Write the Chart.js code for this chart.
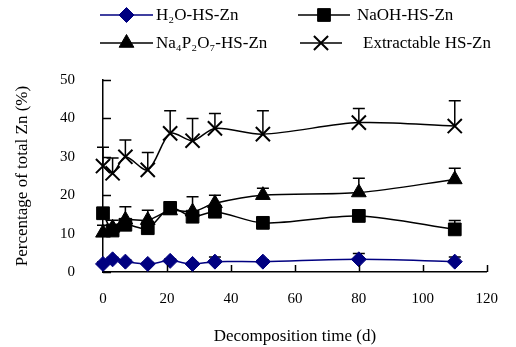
<!DOCTYPE html>
<html>
<head>
<meta charset="UTF-8">
<title>Zn fractions over decomposition time</title>
<script src="https://cdn.jsdelivr.net/npm/chart.js"></script>
<style>
  html, body { margin: 0; padding: 0; background: #fff; }
  #wrap { width: 516px; height: 347px; }
</style>
</head>
<body>
<div id="wrap"><canvas id="znChart" width="516" height="347"></canvas></div>
<script>
// values
const days = [0, 3, 7, 14, 21, 28, 35, 50, 80, 110];
const h2o = [2.1, 3.3, 2.7, 2.1, 2.9, 2.1, 2.7, 2.7, 3.3, 2.7];
const h2oErr = [0.5, 0.5, 0.5, 0.4, 0.5, 0.4, 1.2, 0.5, 1.5, 1.2];
const naoh = [15.3, 10.8, 12.3, 11.4, 16.7, 14.4, 15.7, 12.8, 14.6, 11.1];
const naohErr = [0.5, 1.0, 1.5, 1.5, 0.8, 1.2, 1.2, 0.5, 1.5, 2.3];
const na4p2o7 = [10.2, 11.5, 13.6, 13.5, 16.0, 15.7, 17.9, 20.0, 20.7, 24.1];
const na4p2o7Err = [2.0, 2.0, 3.4, 2.6, 1.0, 3.9, 2.1, 1.8, 3.7, 2.9];
const extractable = [27.6, 25.7, 30.0, 26.6, 36.1, 34.2, 37.4, 35.9, 38.9, 38.0];
const extractableErr = [4.9, 4.0, 4.4, 4.5, 5.9, 5.8, 3.9, 6.1, 3.7, 6.6];
const labels = ["H\u2082O-HS-Zn", "NaOH-HS-Zn", "Na\u2084P\u2082O\u2087-HS-Zn", "Extractable HS-Zn"];
const xTicks = [0, 20, 40, 60, 80, 100, 120];
const yTicks = [0, 10, 20, 30, 40, 50];

const FONT = "'Liberation Serif', 'Times New Roman', serif";

function pts(vals) {
    return days.map((d, i) => ({ x: d, y: vals[i] }));
}

// upper error bars with caps
const errorBars = {
    id: 'errorBars',
    beforeDatasetsDraw(chart) {
        const ctx = chart.ctx;
        const xs = chart.scales.x, ys = chart.scales.y;
        ctx.save();
        ctx.strokeStyle = '#000';
        ctx.lineWidth = 1.5;
        chart.data.datasets.forEach(ds => {
            ds.data.forEach((p, i) => {
                const px = xs.getPixelForValue(p.x);
                const y0 = ys.getPixelForValue(p.y);
                const y1 = ys.getPixelForValue(p.y + ds.err[i]);
                ctx.beginPath();
                ctx.moveTo(px, y0);
                ctx.lineTo(px, y1);
                ctx.moveTo(px - 6, y1);
                ctx.lineTo(px + 6, y1);
                ctx.stroke();
            });
        });
        ctx.restore();
    }
};

// tick marks pointing into the plot
const innerTicks = {
    id: 'innerTicks',
    afterDraw(chart) {
        const ctx = chart.ctx;
        const xs = chart.scales.x, ys = chart.scales.y;
        const a = chart.chartArea;
        ctx.save();
        ctx.strokeStyle = '#000';
        ctx.lineWidth = 1.5;
        ctx.beginPath();
        xTicks.forEach(v => {
            if (v === 0) return;
            const px = Math.round(xs.getPixelForValue(v)) + 0.5;
            ctx.moveTo(px, a.bottom);
            ctx.lineTo(px, a.bottom - 7);
        });
        yTicks.forEach(v => {
            const py = Math.round(ys.getPixelForValue(v)) + 0.5;
            ctx.moveTo(a.left, py);
            ctx.lineTo(a.left + 8, py);
        });
        ctx.stroke();
        ctx.restore();
    }
};

// two-row legend with line + marker samples
const lineLegend = {
    id: 'lineLegend',
    afterDraw(chart) {
        const ctx = chart.ctx;
        const slots = [
            { x0: 100, x1: 153, tx: 156, y: 15 },
            { x0: 298, x1: 350, tx: 357, y: 15 },
            { x0: 100, x1: 153, tx: 156, y: 43 },
            { x0: 300, x1: 342, tx: 363, y: 43 }
        ];
        ctx.save();
        chart.data.datasets.forEach((ds, i) => {
            const s = slots[i];
            ctx.strokeStyle = ds.borderColor;
            ctx.lineWidth = 1.5;
            ctx.beginPath();
            ctx.moveTo(s.x0, s.y);
            ctx.lineTo(s.x1, s.y);
            ctx.stroke();
            ctx.fillStyle = ds.pointBackgroundColor;
            ctx.strokeStyle = ds.pointBorderColor;
            ctx.lineWidth = ds.pointBorderWidth || 1;
            Chart.helpers.drawPoint(ctx, {
                pointStyle: ds.pointStyle,
                radius: ds.pointRadius,
                borderWidth: ds.pointBorderWidth || 1
            }, (s.x0 + s.x1) / 2, s.y);
            ctx.fillStyle = '#000';
            ctx.font = '17px ' + FONT;
            ctx.textBaseline = 'middle';
            ctx.fillText(ds.label, s.tx, s.y + 1);
        });
        ctx.restore();
    }
};

const ctx = document.getElementById('znChart').getContext('2d');
new Chart(ctx, {
    type: 'line',
    data: {
        datasets: [
            {
                label: labels[0], data: pts(h2o), err: h2oErr,
                borderColor: '#000080', borderWidth: 1.5,
                pointStyle: 'rectRot', pointRadius: 7.5,
                pointBackgroundColor: '#000080', pointBorderColor: '#000080', pointBorderWidth: 1
            },
            {
                label: labels[1], data: pts(naoh), err: naohErr,
                borderColor: '#000', borderWidth: 1.5,
                pointStyle: 'rect', pointRadius: 9,
                pointBackgroundColor: '#000', pointBorderColor: '#000', pointBorderWidth: 1
            },
            {
                label: labels[2], data: pts(na4p2o7), err: na4p2o7Err,
                borderColor: '#000', borderWidth: 1.5,
                pointStyle: 'triangle', pointRadius: 8.5,
                pointBackgroundColor: '#000', pointBorderColor: '#000', pointBorderWidth: 1
            },
            {
                label: labels[3], data: pts(extractable), err: extractableErr,
                borderColor: '#000', borderWidth: 1.5,
                pointStyle: 'crossRot', pointRadius: 10,
                pointBackgroundColor: '#000', pointBorderColor: '#000', pointBorderWidth: 2
            }
        ]
    },
    options: {
        responsive: false,
        animation: false,
        layout: { padding: { top: 80, right: 14, left: 0, bottom: 0 } },
        elements: { line: { tension: 0.3 } },
        datasets: { line: { clip: false } },
        plugins: { legend: { display: false }, tooltip: { enabled: false } },
        scales: {
            x: {
                type: 'linear', min: 0, max: 120,
                afterFit(scale) { scale.height = 75; },
                afterBuildTicks(scale) { scale.ticks = xTicks.map(v => ({ value: v })); },
                grid: { display: true, drawOnChartArea: false, drawTicks: false },
                border: { display: true, color: '#000', width: 1.5 },
                ticks: { padding: 18, color: '#000', font: { family: FONT, size: 15 } },
                title: {
                    display: true, text: 'Decomposition time (d)', color: '#000',
                    font: { family: FONT, size: 17 }, padding: { top: 0, bottom: 0 }
                }
            },
            y: {
                min: 0, max: 50,
                afterFit(scale) { scale.width = 103; },
                afterBuildTicks(scale) { scale.ticks = yTicks.map(v => ({ value: v })); },
                grid: { display: true, drawOnChartArea: false, drawTicks: false },
                border: { display: true, color: '#000', width: 1.5 },
                ticks: { padding: 28, color: '#000', font: { family: FONT, size: 15 } },
                title: {
                    display: true, text: 'Percentage of total Zn (%)', color: '#000',
                    font: { family: FONT, size: 17 }, padding: { top: 12, bottom: 0 }
                }
            }
        }
    },
    plugins: [errorBars, innerTicks, lineLegend]
});
</script>
</body>
</html>
